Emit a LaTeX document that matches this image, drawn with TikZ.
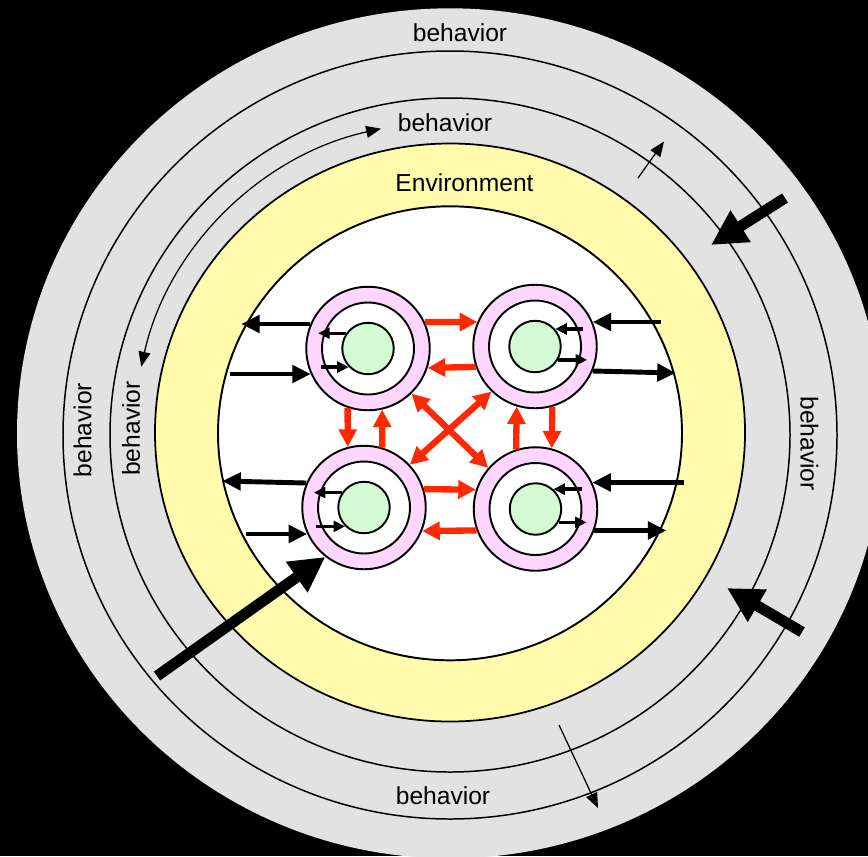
\documentclass[tikz,border=0pt]{standalone}
\usepackage{fontspec}
\setmainfont{Liberation Sans}
\usetikzlibrary{arrows.meta,calc}

\definecolor{ringgray}{RGB}{226,226,226}
\definecolor{envyellow}{RGB}{255,252,174}
\definecolor{cellpink}{RGB}{255,214,255}
\definecolor{coregreen}{RGB}{212,250,212}
\definecolor{signalred}{RGB}{255,40,0}

\tikzset{
  cell/.style={circle, draw, fill=cellpink, line width=1.1pt, minimum size=2.47cm, inner sep=0pt},
  hole/.style={circle, draw, fill=white, line width=1.1pt, minimum size=1.84cm, inner sep=0pt},
  core/.style={circle, draw, fill=coregreen, line width=1.1pt, minimum size=1.03cm, inner sep=0pt},
  ringtext/.style={font=\fontsize{14}{16}\selectfont, inner sep=0pt},
  iobig/.style={line width=2.8pt, >={Triangle[length=10.5pt,width=9.8pt]}},
  iosmall/.style={line width=1.9pt, >={Triangle[length=6.6pt,width=6.2pt]}},
  signal/.style={draw=signalred, line width=3.6pt, >={Triangle[length=10pt,width=10pt]}},
  push/.style={line width=6.2pt, >={Triangle[length=20pt,width=20pt]}},
  nudge/.style={line width=0.7pt, >={Triangle[length=8.5pt,width=6.8pt]}},
}

\begin{document}
\begin{tikzpicture}[x=0.02cm, y=-0.02cm]
			%%%%% RINGS %%%%%
			\useasboundingbox (0,0) rectangle (868,856);
			\clip (0,0) rectangle (868,856);
			\fill[black] (0,0) rectangle (868,856);
			
			\fill[ringgray] (450,433.3) ellipse [x radius=433, y radius=425];
			\draw[line width=0.85pt] (450,435) ellipse [x radius=387, y radius=384];
			\draw[line width=0.85pt] (450,435) ellipse [x radius=340, y radius=337];
			\draw[fill=envyellow, line width=1pt] (450,432.5) ellipse [x radius=295, y radius=289];
			\draw[fill=white, line width=1.1pt] (450,433.3) ellipse [x radius=232, y radius=227];
			
			\node[ringtext] (outerN) at (460,33) {behavior};
			\node[ringtext] (innerN) at (445,123) {behavior};
			\node[ringtext] (envN) at (464.5,183) {Environment};
			\node[ringtext] (outerS) at (443,796) {behavior};
			\node[ringtext, rotate=90] (outerW) at (82.5,430) {behavior};
			\node[ringtext, rotate=90] (innerW) at (131,428.5) {behavior};
			\node[ringtext, rotate=-90] (outerE) at (809.5,443.5) {behavior};
			
			%%%%% CELLS %%%%%
			\node[cell] (tl) at (368,348.5) {};
			\node[hole] (tlh) at (tl) {};
			\node[core] (tlc) at (tl) {};
			
			\node[cell] (tr) at (535,346.5) {};
			\node[hole] (trh) at (tr) {};
			\node[core] (trc) at (tr) {};
			
			\node[cell] (bl) at (364,507.5) {};
			\node[hole] (blh) at (bl) {};
			\node[core] (blc) at (bl) {};
			
			\node[cell] (br) at (535.5,509) {};
			\node[hole] (brh) at (br) {};
			\node[core] (brc) at (br) {};
			
			% inside each cell
			\draw[iosmall,->] (tlc.145) -- ++(-28,0);
			\draw[iosmall,<-] (tlc.224) -- ++(-28,0);
			\draw[iosmall,<-] (trc.41) -- ++(28,0);
			\draw[iosmall,->] (trc.330) -- ++(29,0);
			\draw[iosmall,->] (blc.146) -- ++(-28,0);
			\draw[iosmall,<-] (blc.225) -- ++(-29,0);
			\draw[iosmall,<-] (brc.48) -- ++(29,0);
			\draw[iosmall,->] (brc.330) -- ++(28,0);
			
			% cell and environment
			\draw[iobig,->] (tl.157) -- ++(-69,0);
			\draw[iobig,<-] (tl.204) -- ++(-81,0);
			\draw[iobig,<-] (tr.23) -- ++(68,0);
			\draw[iobig,->] (tr.337) -- ++(83,2);
			\draw[iobig,->] (bl.157) -- ++(-84,-2);
			\draw[iobig,<-] (bl.205) -- ++(-61,0);
			\draw[iobig,<-] (br.25) -- ++(92,0);
			\draw[iobig,->] (br.340) -- ++(72,0);
			
			% cell to cell
			\draw[signal,->] (tl.25) -- (tr.157);
			\draw[signal,->] (tr.199) -- (tl.342);
			\draw[signal,->] (tl.251) -- (bl.105);
			\draw[signal,->] (bl.73) -- (tl.283);
			\draw[signal,->] (br.108) -- (tr.253);
			\draw[signal,->] (tr.286) -- (br.75);
			\draw[signal,->] (bl.17) -- (br.162);
			\draw[signal,->] (br.200) -- (bl.338);
			\draw[signal,<->] (tl.314) -- (br.139);
			\draw[signal,<->] (tr.226) -- (bl.43);
			
			%%%%% BEHAVIOR ARROWS %%%%%
			\coordinate (pushNE) at (785,198);
			\coordinate (pushSE) at (802,632);
			\coordinate (pushSW) at (157,676);
			\draw[push,->] (pushNE) -- ++(-74,47);
			\draw[push,->] (pushSE) -- ++(-75,-44);
			\draw[push,->] (pushSW) -- (bl.232);
			
			\coordinate (nudgeNE) at (638,178);
			\coordinate (nudgeS) at (559,725);
			\draw[nudge,->] (nudgeNE) -- ++(26,-36.5);
			\draw[nudge,->] (nudgeS) -- ++(39,83);
			\draw[nudge,<->] (450,434) ++(-167.7:316) arc[start angle=-167.7, end angle=-102.6, x radius=316, y radius=312];
			%%%%% END %%%%%
\end{tikzpicture}
\end{document}
